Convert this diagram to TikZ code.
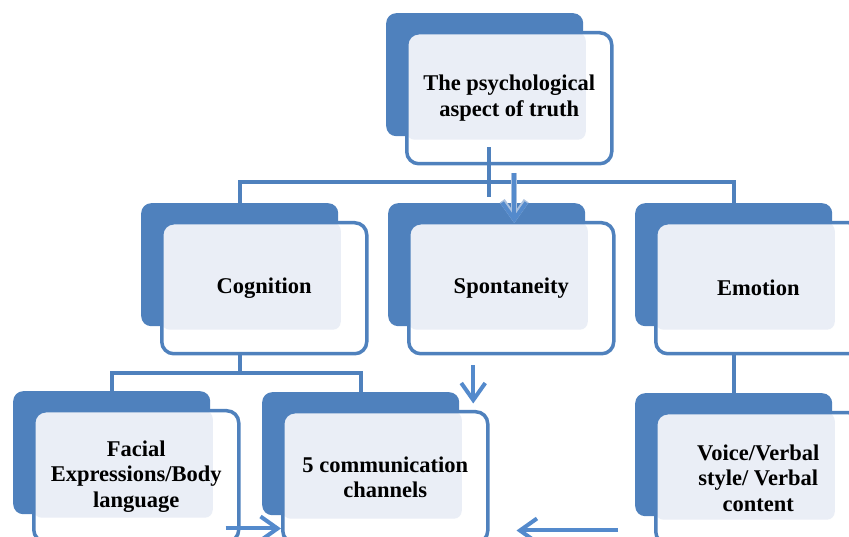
\documentclass[tikz,border=0pt]{standalone}
\usepackage{fontspec}
\setmainfont{Liberation Serif}
\usetikzlibrary{arrows.meta,calc}

\definecolor{boxblue}{RGB}{79,129,189}
\definecolor{boxlight}{RGB}{234,238,246}
\definecolor{arrowblue}{RGB}{84,138,204}

\tikzset{
  backbox/.style={rectangle, rounded corners=10pt, fill=boxblue, minimum width=197pt,
    minimum height=123pt, inner sep=0pt, anchor=north west},
  frontbox/.style={rectangle, rounded corners=12pt, fill=white, draw=boxblue, line width=3.5pt,
    minimum width=205pt, minimum height=131pt, inner sep=0pt, anchor=north west, align=center,
    font=\bfseries\fontsize{22.5}{25.5}\selectfont,
    path picture={\fill[boxlight, rounded corners=8pt]
      ([shift={(0pt,0pt)}]path picture bounding box.north west) rectangle
      ([shift={(-26pt,24pt)}]path picture bounding box.south east);}},
  link/.style={draw=boxblue, line width=4pt},
  flow/.style={draw=arrowblue, line width=4pt, -{Straight Barb[length=17pt,width=24pt]}},
}

\begin{document}
\begin{tikzpicture}[x=1pt,y=1pt]
    \useasboundingbox (0,0) rectangle (849,537);
    \clip (0,0) rectangle (849,537);

    % Top: psychological aspect
    \node[backbox] (topb) at (386,524) {};
    \node[frontbox] (top) at ([shift={(19pt,-18pt)}]topb.north west) {The psychological\\aspect of truth};

    % Middle row
    \node[backbox] (cogb) at (141,334) {};
    \node[frontbox] (cog) at ([shift={(19pt,-18pt)}]cogb.north west) {Cognition};
    \node[backbox] (spob) at (388,334) {};
    \node[frontbox] (spo) at ([shift={(19pt,-18pt)}]spob.north west) {Spontaneity};
    \node[backbox] (emob) at (635,334) {};
    \node[frontbox] (emo) at ([shift={(19pt,-18pt)}]emob.north west) {Emotion};

    % Bottom row
    \node[backbox] (facb) at (13,146) {};
    \node[frontbox] (fac) at ([shift={(19pt,-18pt)}]facb.north west) {Facial\\Expressions/Body\\language};
    \node[backbox] (comb) at (262,145) {};
    \node[frontbox] (com) at ([shift={(19pt,-18pt)}]comb.north west) {5 communication\\channels};
    \node[backbox] (voib) at (635,144) {};
    \node[frontbox] (voi) at ([shift={(19pt,-18pt)}]voib.north west) {Voice/Verbal\\style/ Verbal\\content};

    % Top links
    \draw[link] ($(top.south)+(-20,18)$) -- ++(0,-50);
    \coordinate (bus) at ($(top.south)+(0,-17)$);
    \draw[link] (cogb.north) |- (bus) -| (emob.north);
    \draw[flow, preaction={draw=boxlight!60!boxblue, line width=6pt}] ($(spo.north)+(3,48)$) -- ($(spo.north)+(3,-2)$);

    % Cognition split
    \draw[link] (cogb.south |- cog.south) -- ++(0,-18) coordinate (fork);
    \draw[link] (facb.north) |- (fork) -| (comb.north);

    % Emotion down
    \draw[link] (emob.south |- emo.south) -- (voib.north);

    % Arrows into channels
    \draw[flow] ($(spo.south)+(-38,-10)$) -- ($(spo.south)+(-38,-48)$);
    \draw[flow] ($(fac.south east)+(-15,15)$) -- ($(com.west |- fac.south east)+(0,15)$);
    \draw[flow] ($(voi.south west)+(-36,15)$) -- ($(com.east |- voi.south west)+(27,15)$);

\end{tikzpicture}
\end{document}
